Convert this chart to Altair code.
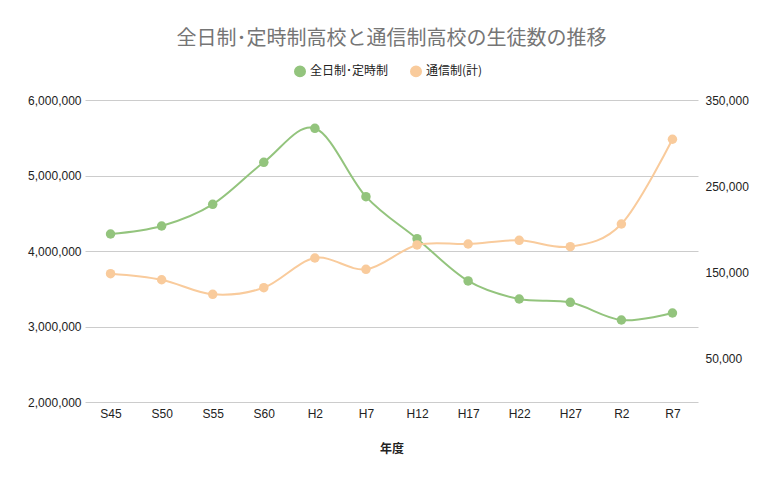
import altair as alt
import pandas as pd

years = ["S45", "S50", "S55", "S60", "H2", "H7", "H12", "H17", "H22", "H27", "R2", "R7"]
zennichi = [4225000, 4331000, 4618000, 5175000, 5625000, 4720000,
            4163000, 3603000, 3364000, 3320000, 3086000, 3179000]
tsushin = [148700, 141700, 124800, 132500, 166900, 153800,
           182000, 183100, 187400, 180000, 206300, 304500]

s1 = "全日制･定時制"
s2 = "通信制(計)"

df = pd.concat([
    pd.DataFrame({"年度": years, "生徒数": zennichi, "系列": s1}),
    pd.DataFrame({"年度": years, "生徒数": tsushin, "系列": s2}),
])

FONT = "Liberation Sans"
JP = "Noto Sans CJK JP"

color = alt.Color("系列:N", sort=[s1, s2],
                  scale=alt.Scale(domain=[s1, s2], range=["#93C47D", "#F9CB9C"]),
                  legend=alt.Legend(title=None, orient="none", legendX=209, legendY=-35,
                                    direction="horizontal", symbolType="circle",
                                    symbolSize=110, labelFont=JP, labelFontSize=12,
                                    labelColor="#222222", columnPadding=18))

x = alt.X("年度:N", sort=years, scale=alt.Scale(padding=0.5),
          axis=alt.Axis(labelAngle=0, title="年度", titleFont=JP, titleFontSize=12,
                        titleFontWeight="bold", titleColor="#222222", titlePadding=24,
                        labelFont=FONT, labelFontSize=12, labelColor="#222222",
                        labelPadding=6, ticks=False, domain=False, grid=False))

base = alt.Chart(df).encode(x=x, color=color)

left_y = alt.Y("生徒数:Q", scale=alt.Scale(domain=[2000000, 6000000]),
               axis=alt.Axis(title=None, values=[2000000, 3000000, 4000000, 5000000, 6000000],
                             format=",.0f", labelFont=FONT, labelFontSize=12, labelColor="#222222",
                             ticks=False, domain=False, gridColor="#CCCCCC", labelPadding=4))
right_y = alt.Y("生徒数:Q", scale=alt.Scale(domain=[0, 350000], nice=False),
                axis=alt.Axis(title=None, orient="right", values=[50000, 150000, 250000, 350000],
                              format=",.0f", labelFont=FONT, labelFontSize=12, labelColor="#222222",
                              ticks=False, domain=False, grid=False, labelPadding=7))

g = base.transform_filter(alt.datum["系列"] == s1).encode(y=left_y)
green = g.mark_line(interpolate="cardinal", strokeWidth=2) + \
    g.mark_circle(size=90, opacity=1)

o = base.transform_filter(alt.datum["系列"] == s2).encode(y=right_y)
orange = o.mark_line(interpolate="cardinal", strokeWidth=2) + \
    o.mark_circle(size=90, opacity=1)

chart = alt.layer(green, orange).resolve_scale(y="independent").properties(
    width=613, height=302,
    padding={"left": 19, "top": 21, "right": 3, "bottom": 10},
    title=alt.TitleParams("全日制･定時制高校と通信制高校の生徒数の推移", font=JP, fontSize=20,
                          fontWeight="normal", color="#757575", anchor="middle", offset=16),
).configure_view(stroke=None)

chart.save("out.html", embed_options={"renderer": "svg", "actions": False})
